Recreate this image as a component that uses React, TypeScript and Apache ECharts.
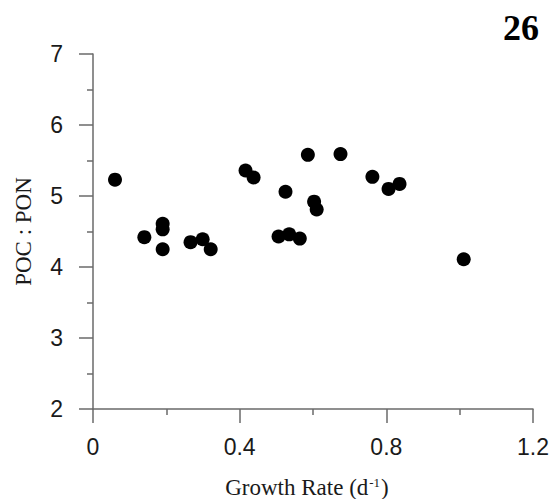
import React, { useEffect, useRef } from "react";
import * as echarts from "echarts";

const growthRate = [0.06, 0.14, 0.19, 0.19, 0.19, 0.266, 0.299, 0.321, 0.416, 0.438, 0.525, 0.506, 0.535, 0.564, 0.586, 0.603, 0.61, 0.675, 0.762, 0.806, 0.836, 1.011];
const pocPon = [5.23, 4.42, 4.61, 4.53, 4.25, 4.35, 4.39, 4.25, 5.36, 5.26, 5.06, 4.43, 4.46, 4.4, 5.58, 4.92, 4.81, 5.59, 5.27, 5.1, 5.17, 4.11];
const panelLabel = "26";
const xName = "Growth Rate (d";
const xNameSup = "-1";
const yName = "POC : PON";

export default function App() {
  const ref = useRef<HTMLDivElement>(null);
  useEffect(() => {
    if (!ref.current) return;
    const chart = echarts.init(ref.current, undefined, { renderer: "svg" });
    const axisColor = "#6a6a6a";
    const labelStyle = {
      color: "#1a1a1a",
      fontFamily: "Liberation Sans",
      fontSize: 23,
    };
    chart.setOption({
      animation: false,
      backgroundColor: "#ffffff",
      grid: { left: 93, right: 21, top: 54, bottom: 90, containLabel: false, outerBoundsMode: "none" },
      xAxis: {
        type: "value",
        min: 0,
        max: 1.2,
        interval: 0.4,
        name: `{a|${xName}}{sup|${xNameSup}}{a|)}`,
        nameLocation: "middle",
        nameGap: 67,
        nameTextStyle: {
          padding: [0, 12, 0, 0],
          rich: {
            a: { fontFamily: "Liberation Serif", fontSize: 23, color: "#1a1a1a" },
            sup: { fontFamily: "Liberation Serif", fontSize: 13, color: "#1a1a1a", verticalAlign: "top", padding: [0, 1, 8, 1] },
          },
        },
        axisLine: { show: true, onZero: false, lineStyle: { color: axisColor, width: 1.5 } },
        axisTick: { show: true, inside: false, length: 14, lineStyle: { color: axisColor, width: 1.5 } },
        minorTick: { show: true, splitNumber: 2, length: 6, lineStyle: { color: axisColor, width: 1.5 } },
        axisLabel: { ...labelStyle, margin: 26, formatter: (v: number) => String(Math.round(v * 10) / 10) },
        splitLine: { show: false },
      },
      yAxis: {
        type: "value",
        min: 2,
        max: 7,
        interval: 1,
        name: yName,
        nameLocation: "middle",
        nameGap: 58,
        nameTextStyle: { fontFamily: "Liberation Serif", fontSize: 23, color: "#1a1a1a" },
        axisLine: { show: true, onZero: false, lineStyle: { color: axisColor, width: 1.5 } },
        axisTick: { show: true, inside: false, length: 14, lineStyle: { color: axisColor, width: 1.5 } },
        minorTick: { show: true, splitNumber: 2, length: 6, lineStyle: { color: axisColor, width: 1.5 } },
        axisLabel: { ...labelStyle, margin: 30 },
        splitLine: { show: false },
      },
      graphic: [
        {
          type: "text",
          right: 15,
          top: 10,
          style: {
            text: panelLabel,
            fontFamily: "Liberation Serif",
            fontWeight: "bold",
            fontSize: 36,
            fill: "#000",
          },
        },
      ],
      series: [
        {
          type: "scatter",
          data: growthRate.map((x, i) => [x, pocPon[i]]),
          symbol: "circle",
          symbolSize: 14,
          itemStyle: { color: "#000", opacity: 1 },
        },
      ],
    });
    return () => chart.dispose();
  }, []);
  return <div ref={ref} style={{ width: 554, height: 499, position: "absolute", left: 0, top: 0 }} />;
}
